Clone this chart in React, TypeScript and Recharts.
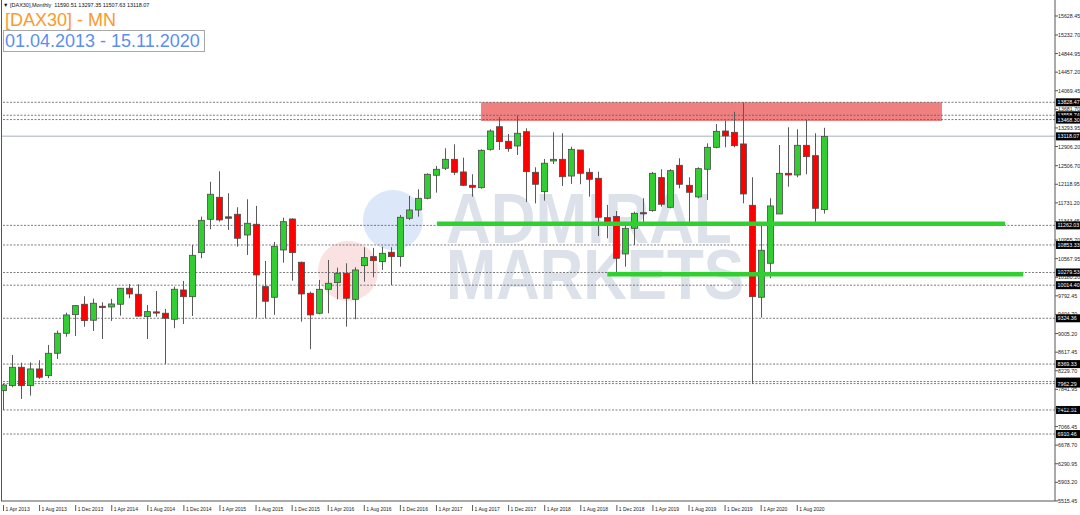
import React from 'react'
import { ComposedChart, Bar, XAxis, YAxis, ReferenceLine, ReferenceArea } from 'recharts'

const FONT = '"Liberation Sans", Arial, sans-serif'

// monthly DAX30 candles, Apr 2013 .. Nov 2020
const opens = [
  7815, 7920, 8303, 7920, 8268, 8128, 8595, 9012, 9400, 9617,
  9284, 9575, 9560, 9617, 9951, 9826, 9358, 9458, 9430, 9304,
  9915, 9775, 10693, 11389, 11848, 11440, 11494, 11062, 11285, 9985,
  9763, 10749, 11395, 10493, 9846, 9429, 9929, 10068, 10264, 9721,
  10422, 10610, 10505, 10701, 10610, 11410, 11583, 11827, 12307, 12453,
  12640, 12376, 12098, 12048, 12848, 13320, 13016, 12918, 13216, 12369,
  11965, 12605, 12640, 12291, 12834, 12369, 12244, 11423, 11450, 10666,
  11201, 11527, 11569, 12258, 11639, 12515, 12098, 11855, 12432, 12890,
  13230, 13203, 12960, 11681, 9763, 10472, 11500, 12348, 12313, 12932,
  12716, 11590.51,
]
const highs = [
  7955, 8560, 8399, 8406, 8450, 8768, 9067, 9442, 9602, 9784,
  9734, 9658, 9728, 9957, 10040, 10034, 9602, 9894, 9519, 9984,
  10103, 10853.33, 11444, 12173, 12390, 11932, 11640, 11806, 11667, 10520,
  10916, 11423, 11410, 10505, 9880, 10124, 10541, 10380, 10472, 10388,
  10806, 10791, 10818, 10806, 11479, 11875, 12015, 12348, 12501, 12870,
  12953, 12674, 12328, 12848, 13266, 13525, 13168, 13558.74, 13286, 12473,
  12647, 13203, 13183, 12903, 12660, 12452, 12382, 11688, 11562, 11306,
  11548, 11827, 12376, 12432, 12432, 12661, 12265, 12473, 12973, 13376,
  13445, 13633, 13828.47, 12265, 11327, 11827, 12938, 13308, 13266, 13468.3,
  13183, 13297.35,
]
const lows = [
  7412.31, 7886, 7643, 7712, 8060, 8074, 8476, 8940, 8956, 9149,
  9060, 8893, 9269, 9380, 9742, 9358, 8893, 9358, 8369.33, 9117,
  9206, 9373, 10576, 11181, 11340, 11166, 10818, 10645, 9338, 9324.36,
  9394, 10484, 10109, 9254, 8679, 9409, 9429, 9721, 9150, 9304,
  10088, 10180, 10332, 10014.4, 10401, 11375, 11444, 11806, 11944, 12417,
  12313, 12084, 11860, 12028, 12820, 12834, 12799, 12730, 11750, 11720,
  11777, 12542, 12084, 12126, 12120, 11860, 11041, 10993, 10279.53, 10401,
  10853, 11270, 11548, 11652, 11618, 12035, 11262.03, 11827, 11792, 12870,
  12890, 12890, 11723, 7962.29, 9340, 10159, 11500, 12069, 12265, 12328,
  11319, 11507.63,
]
const closes = [
  7934, 8303, 7920, 8268, 8095, 8595, 9012, 9394, 9588, 9275,
  9638, 9560, 9623, 9951, 9832, 9370, 9463, 9450, 9325, 9930,
  9775, 10638, 11368, 11911, 11375, 11410, 10993, 11306, 10228, 9680,
  10826, 11339, 10693, 9832, 9394, 9929, 10055, 10264, 9742, 10332,
  10589, 10526, 10680, 10610, 11431, 11583, 11827, 12328, 12432, 12640,
  12369, 12098, 12056, 12828, 13230, 13008, 12862, 13183, 12382, 12119,
  12558, 12640, 12277, 12848, 12348, 12223, 11431, 11319, 10576, 11201,
  11514, 11520, 12348, 11702, 12403, 12119, 11952, 12445, 12890, 13224,
  13126, 12924, 11917, 9775, 10743, 11667, 12348, 12313, 12932, 12695,
  11618, 13118.07,
]

const xTickLabels = [
  '1 Apr 2013', '1 Aug 2013', '1 Dec 2013', '1 Apr 2014', '1 Aug 2014', '1 Dec 2014',
  '1 Apr 2015', '1 Aug 2015', '1 Dec 2015', '1 Apr 2016', '1 Aug 2016', '1 Dec 2016',
  '1 Apr 2017', '1 Aug 2017', '1 Dec 2017', '1 Apr 2018', '1 Aug 2018', '1 Dec 2018',
  '1 Apr 2019', '1 Aug 2019', '1 Dec 2019', '1 Apr 2020', '1 Aug 2020',
]
const xTicks = xTickLabels.map((_, k) => k * 4)

const yTicks = [
  15628.45, 15232.7, 14844.95, 14457.2, 14069.45, 13681.7, 13293.95, 12906.2, 12506.7,
  12118.95, 11731.2, 11343.45, 10955.7, 10567.95, 10180.2, 9792.45, 9404.7, 9005.2,
  8617.45, 8229.7, 7841.95, 7454.2, 7066.45, 6678.7, 6290.95, 5903.2, 5515.45,
]

// dotted horizontal levels with black price tags
const levels = [
  13828.47, 13558.74, 13468.3, 11262.03, 10853.33, 10279.53, 10014.4,
  9324.36, 8369.33, 8004.7, 7962.29, 7412.31, 6910.46,
]
const lastPrice = 13118.07

// resistance zone and support lines (bar index from / to, price)
const resistanceZone = { from: 53, to: 104.1, bottom: 13440, top: 13828.47 }
const supportLines = [
  { from: 48.1, to: 111.1, price: 11295 },
  { from: 67, to: 113.1, price: 10244 },
]

const candles = opens.map((o, i) => ({
  i,
  open: o,
  high: highs[i],
  low: lows[i],
  close: closes[i],
}))

function Candle(props: any) {
  const { x, y, width, height, payload } = props
  if (!payload || height == null) return null
  const { open, close, high, low } = payload
  const cx = Math.round(x + width / 2) + 0.5
  const k = high === low ? 0 : height / (high - low)
  const top = y + (high - Math.max(open, close)) * k
  const bot = y + (high - Math.min(open, close)) * k
  const up = close >= open
  return (
    <g>
      <line x1={cx} x2={cx} y1={y} y2={y + height} stroke="#5a5a5a" strokeWidth={1} />
      <rect
        x={cx - 3}
        y={top}
        width={6}
        height={Math.max(bot - top, 1.2)}
        fill={up ? '#32cd32' : '#ff0000'}
        stroke="#4a4a4a"
        strokeWidth={0.8}
      />
    </g>
  )
}

function XTick(props: any) {
  const { x, y, payload } = props
  const label = xTickLabels[Math.round(payload.value / 4)]
  return (
    <g>
      <line x1={x + 0.5} x2={x + 0.5} y1={y + 4} y2={y + 10} stroke="#333" strokeWidth={0.8} />
      <text x={x + 2.5} y={y + 10} fontSize={5} fill="#222" fontFamily={FONT} textAnchor="start">
        {label}
      </text>
    </g>
  )
}

function YTick(props: any) {
  const { x, y, payload } = props
  return (
    <text x={x} y={y + 2} fontSize={5.3} fill="#222" fontFamily={FONT} textAnchor="start">
      {Number(payload.value).toFixed(2)}
    </text>
  )
}

function PriceTag(props: any) {
  const { viewBox, text } = props
  if (!viewBox) return null
  const x = viewBox.x + viewBox.width
  const y = viewBox.y
  return (
    <g>
      <rect x={x + 1} y={y - 4} width={24} height={8} fill="#000" />
      <text x={x + 2.5} y={y + 2} fontSize={5.3} fill="#fff" fontFamily={FONT}>
        {text}
      </text>
    </g>
  )
}

export default function App() {
  return (
    <div
      style={{
        position: 'fixed',
        left: 0,
        top: 0,
        width: 1080,
        height: 515,
        background: '#fff',
        overflow: 'hidden',
      }}
    >
      {/* watermark */}
      <svg width={1080} height={515} style={{ position: 'absolute', left: 0, top: 0 }}>
        <circle cx={393} cy={220} r={30} fill="#dce8fa" />
        <circle cx={348} cy={271} r={30} fill="#fbe2e2" />
        <text x={446} y={243} fontSize={70} fontWeight="bold" fill="#dde1ea" fontFamily={FONT}
          textLength={286} lengthAdjust="spacingAndGlyphs">ADMIRAL</text>
        <text x={446} y={299} fontSize={70} fontWeight="bold" fill="#dde1ea" fontFamily={FONT}
          textLength={298} lengthAdjust="spacingAndGlyphs">MARKETS</text>
      </svg>

      <div style={{ position: 'absolute', left: 0, top: 0 }}>
        <ComposedChart
          width={1080}
          height={515}
          data={candles}
          margin={{ top: 0, right: 0, bottom: 0, left: 1 }}
        >
          <XAxis
            dataKey="i"
            type="number"
            domain={[-0.22, 116.63]}
            ticks={xTicks}
            interval={0}
            allowDataOverflow
            height={14}
            tickLine={false}
            tickSize={0}
            tickMargin={0}
            axisLine={{ stroke: '#555' }}
            tick={<XTick />}
          />
          <YAxis
            orientation="right"
            width={25}
            domain={[5514, 15962]}
            ticks={yTicks}
            interval={0}
            allowDataOverflow
            tickSize={3}
            tickMargin={0}
            tickLine={{ stroke: '#555' }}
            axisLine={{ stroke: '#555' }}
            tick={<YTick />}
          />
          <ReferenceArea
            x1={resistanceZone.from}
            x2={resistanceZone.to}
            y1={resistanceZone.bottom}
            y2={resistanceZone.top}
            fill="#f08080"
            fillOpacity={1}
            stroke="none"
            zIndex={50}
          />
          {levels.map((v) => (
            <ReferenceLine
              key={v}
              y={v}
              stroke="#5a5a5a"
              strokeWidth={0.8}
              strokeDasharray="2 1.5"
              zIndex={60}
              label={<PriceTag text={v.toFixed(2)} />}
            />
          ))}
          <ReferenceLine
            y={lastPrice}
            stroke="#c5cad1"
            strokeWidth={1.5}
            zIndex={60}
            label={<PriceTag text={lastPrice.toFixed(2)} />}
          />
          <Bar
            dataKey={(d: any) => [d.low, d.high]}
            barSize={7}
            shape={(p: any) => <Candle {...p} />}
            isAnimationActive={false}
          />
          {supportLines.map((s) => (
            <ReferenceLine
              key={s.price}
              segment={[
                { x: s.from, y: s.price },
                { x: s.to, y: s.price },
              ]}
              stroke="#2fd02f"
              strokeWidth={4.5}
              zIndex={700}
            />
          ))}
        </ComposedChart>
      </div>

      {/* left frame */}
      <div style={{ position: 'absolute', left: 1, top: 0, width: 1, height: 501, background: '#555' }} />

      {/* header */}
      <svg width={260} height={60} style={{ position: 'absolute', left: 0, top: 0, pointerEvents: 'none' }}>
        <text x={3} y={7} fontSize={5.5} fill="#111" fontFamily={FONT} style={{ whiteSpace: 'pre' }}>
          {'\u25BC [DAX30],Monthly  11590.51 13297.35 11507.63 13118.07'}
        </text>
        <text x={5} y={26} fontSize={18} fill="#fb9a2c" fontFamily={FONT}>
          [DAX30] - MN
        </text>
        <rect x={3.5} y={30.5} width={201} height={21} fill="#fff" stroke="#a8a8a8" strokeWidth={1} />
        <text x={5} y={47} fontSize={18} fill="#5b8ff0" fontFamily={FONT}>
          01.04.2013 - 15.11.2020
        </text>
      </svg>
    </div>
  )
}
